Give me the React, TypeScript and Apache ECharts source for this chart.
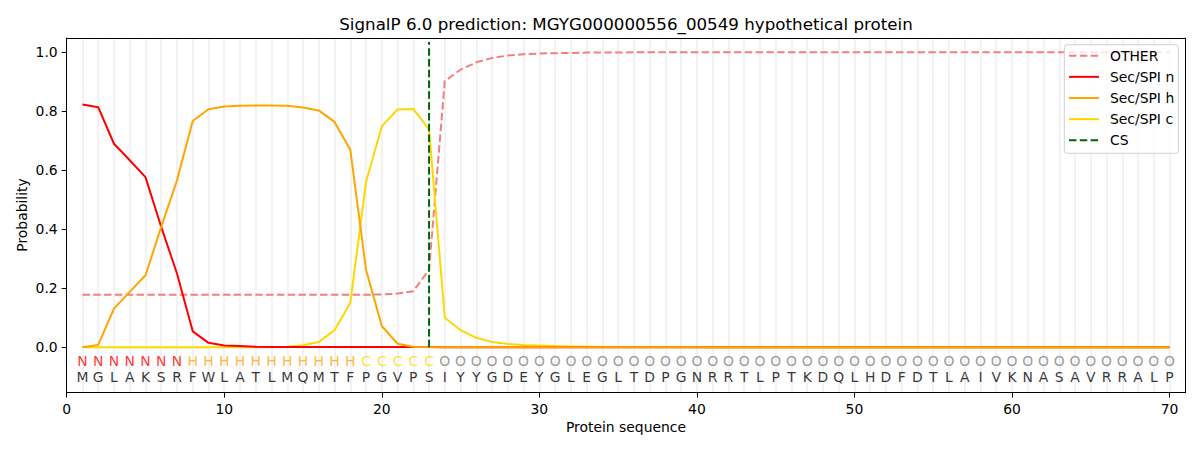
import React, { useEffect, useRef } from "react";
import * as echarts from "echarts";

const TITLE = "SignalP 6.0 prediction: MGYG000000556_00549 hypothetical protein";
const SEQUENCE = "MGLAKSRFWLATLMQMTFPGVPSIYYGDEYGLEGLTDPGNRRTLPTKDQLHDFDTLAIVKNASAVRRALP".split("");
const REGIONS = "NNNNNNNHHHHHHHHHHHCCCCCOOOOOOOOOOOOOOOOOOOOOOOOOOOOOOOOOOOOOOOOOOOOOOO".split("");

const OTHER = [
  0.178, 0.178, 0.178, 0.178, 0.178, 0.178, 0.178, 0.178, 0.178, 0.178,
  0.178, 0.178, 0.178, 0.178, 0.178, 0.178, 0.178, 0.178, 0.178, 0.179,
  0.182, 0.19, 0.263, 0.903, 0.941, 0.966, 0.981, 0.989, 0.993, 0.996,
  0.997, 0.998, 0.999, 0.999, 0.999, 1, 1, 1, 1, 1,
  1, 1, 1, 1, 1, 1, 1, 1, 1, 1,
  1, 1, 1, 1, 1, 1, 1, 1, 1, 1,
  1, 1, 1, 1, 1, 1, 1, 1, 1, 1,
];
const SEC_N = [
  0.823, 0.814, 0.69, 0.634, 0.577, 0.408, 0.25, 0.054, 0.015, 0.006,
  0.004, 0.002, 0.001, 0.001, 0.001, 0.001, 0.001, 0.001, 0.001, 0.001,
  0.001, 0.001, 0.001, 0, 0, 0, 0, 0, 0, 0,
  0, 0, 0, 0, 0, 0, 0, 0, 0, 0,
  0, 0, 0, 0, 0, 0, 0, 0, 0, 0,
  0, 0, 0, 0, 0, 0, 0, 0, 0, 0,
  0, 0, 0, 0, 0, 0, 0, 0, 0, 0,
];
const SEC_H = [
  0, 0.008, 0.131, 0.188, 0.244, 0.408, 0.566, 0.767, 0.807, 0.816,
  0.819, 0.82, 0.82, 0.819, 0.813, 0.803, 0.764, 0.67, 0.263, 0.072,
  0.012, 0.002, 0, 0, 0, 0, 0, 0, 0, 0,
  0, 0, 0, 0, 0, 0, 0, 0, 0, 0,
  0, 0, 0, 0, 0, 0, 0, 0, 0, 0,
  0, 0, 0, 0, 0, 0, 0, 0, 0, 0,
  0, 0, 0, 0, 0, 0, 0, 0, 0, 0,
];
const SEC_C = [
  0, 0, 0, 0, 0, 0, 0, 0, 0, 0,
  0, 0, 0.001, 0.002, 0.007, 0.018, 0.058, 0.15, 0.56, 0.749,
  0.806, 0.808, 0.739, 0.1, 0.058, 0.032, 0.018, 0.011, 0.008, 0.006,
  0.004, 0.003, 0.002, 0.001, 0.001, 0.001, 0.001, 0.001, 0.001, 0.001,
  0, 0, 0, 0, 0, 0, 0, 0, 0, 0,
  0, 0, 0, 0, 0, 0, 0, 0, 0, 0,
  0, 0, 0, 0, 0, 0, 0, 0, 0, 0,
];
const CS_POS = 23;
const CS_TOP = 1.035;
const X_TICKS = [0, 10, 20, 30, 40, 50, 60, 70];
const Y_TICKS = [0, 0.2, 0.4, 0.6, 0.8, 1.0];

const LEGEND_ITEMS = [
  { name: "OTHER", color: "#f08080", dashed: true },
  { name: "Sec/SPI n", color: "#ff0000", dashed: false },
  { name: "Sec/SPI h", color: "#ffa500", dashed: false },
  { name: "Sec/SPI c", color: "#ffd700", dashed: false },
  { name: "CS", color: "#006400", dashed: true },
];

const REGION_COLORS: Record<string, string> = {
  N: "#ff0000",
  H: "#ffa500",
  C: "#ffd700",
  O: "#808080",
};

const FONT = "DejaVu Sans";
const DASH = [7.5, 3.3];

export default function App() {
  const ref = useRef<HTMLDivElement>(null);

  useEffect(() => {
    document.body.style.margin = "0";
    const chart = echarts.init(ref.current!, null, { renderer: "svg" });
    const pos = SEQUENCE.map((_, i) => i + 1);
    const mk = (arr: number[]) => pos.map((x, i) => [x, arr[i]]);

    const lineSeries = (name: string, arr: number[], color: string, dashed: boolean, z: number) => ({
      name,
      type: "line",
      data: mk(arr),
      symbol: "none",
      showSymbol: false,
      z,
      lineStyle: { color, width: 2, type: dashed ? DASH : "solid" },
      itemStyle: { color },
      emphasis: { disabled: true },
    });

    const regionLetters = REGIONS.map((r, i) => ({
      value: [i + 1, -0.046],
      label: { formatter: r, color: REGION_COLORS[r] },
    }));
    const seqLetters = SEQUENCE.map((s, i) => ({
      value: [i + 1, -0.0997],
      label: { formatter: s, color: "#000" },
    }));

    const letterSeries = (data: any[]) => ({
      type: "scatter",
      data,
      symbolSize: 1,
      itemStyle: { color: "transparent" },
      silent: true,
      z: 5,
      label: {
        show: true,
        position: "inside",
        fontSize: 13.9,
        fontFamily: FONT,
      },
    });

    // split line colours: none at x=0 and x=71 (frame), light grey at 1..70
    const gridColors = ["transparent", ...pos.map(() => "#f2f2f2")];

    // legend drawn as graphic
    const legendTop = 44.7;
    const legendLeft = 1064.3;
    const legendGraphics: any[] = [
      {
        type: "rect",
        shape: { x: legendLeft, y: legendTop, width: 114, height: 108.6, r: 3 },
        style: { fill: "rgba(255,255,255,0.8)", stroke: "#d0d0d0", lineWidth: 1 },
        z: 100,
      },
    ];
    LEGEND_ITEMS.forEach((it, i) => {
      const y = 55.7 + i * 21.15;
      legendGraphics.push({
        type: "line",
        shape: { x1: 1069, y1: y, x2: 1099, y2: y },
        style: { stroke: it.color, lineWidth: 2, lineDash: it.dashed ? DASH : null },
        z: 101,
      });
      legendGraphics.push({
        type: "text",
        x: 1110,
        y,
        style: {
          text: it.name,
          fontSize: 13.9,
          fontFamily: FONT,
          fill: "#000",
          align: "left",
          verticalAlign: "middle",
        },
        z: 101,
      });
    });

    chart.setOption({
      animation: false,
      grid: {
        left: 66.7,
        right: 14.7,
        top: 38,
        bottom: 57.3,
        show: false,
      },
      xAxis: [
        {
          type: "value",
          min: 0,
          max: 71,
          position: "bottom",
          axisLine: { show: true, onZero: false, lineStyle: { color: "#000", width: 1 } },
          axisTick: { show: true, length: 5, customValues: X_TICKS, lineStyle: { color: "#000" } },
          axisLabel: {
            customValues: X_TICKS,
            fontSize: 13.9,
            fontFamily: FONT,
            color: "#000",
            margin: 9,
          },
          splitLine: { show: false },
        },
        {
          type: "value",
          min: 0,
          max: 71,
          interval: 1,
          position: "top",
          axisLine: { show: true, onZero: false, lineStyle: { color: "#000", width: 1 } },
          axisTick: { show: false },
          axisLabel: { show: false },
          splitLine: { show: true, lineStyle: { color: gridColors, width: 2 } },
        },
      ],
      yAxis: [
        {
          type: "value",
          min: -0.154,
          max: 1.0485,
          position: "left",
          axisLine: { show: true, onZero: false, lineStyle: { color: "#000", width: 1 } },
          axisTick: { show: true, length: 5, customValues: Y_TICKS, lineStyle: { color: "#000" } },
          axisLabel: {
            customValues: Y_TICKS,
            formatter: (v: number) => v.toFixed(1),
            fontSize: 13.9,
            fontFamily: FONT,
            color: "#000",
            margin: 9,
          },
          splitLine: { show: false },
        },
        {
          type: "value",
          min: -0.154,
          max: 1.0485,
          position: "right",
          axisLine: { show: true, onZero: false, lineStyle: { color: "#000", width: 1 } },
          axisTick: { show: false },
          axisLabel: { show: false },
          splitLine: { show: false },
        },
      ],
      graphic: [
        {
          type: "text",
          x: 626,
          y: 24,
          style: {
            text: TITLE,
            fontSize: 16.7,
            fontFamily: FONT,
            fill: "#000",
            align: "center",
            verticalAlign: "middle",
          },
        },
        {
          type: "text",
          x: 626,
          y: 427,
          style: {
            text: "Protein sequence",
            fontSize: 13.9,
            fontFamily: FONT,
            fill: "#000",
            align: "center",
            verticalAlign: "middle",
          },
        },
        {
          type: "text",
          x: 22,
          y: 215,
          rotation: Math.PI / 2,
          style: {
            text: "Probability",
            fontSize: 13.9,
            fontFamily: FONT,
            fill: "#000",
            align: "center",
            verticalAlign: "middle",
          },
        },
        ...legendGraphics,
      ],
      series: [
        lineSeries("OTHER", OTHER, "#f08080", true, 2),
        lineSeries("Sec/SPI c", SEC_C, "#ffd700", false, 3),
        lineSeries("Sec/SPI n", SEC_N, "#ff0000", false, 4),
        lineSeries("Sec/SPI h", SEC_H, "#ffa500", false, 5),
        {
          name: "CS",
          type: "line",
          data: [
            [CS_POS, 0],
            [CS_POS, CS_TOP],
          ],
          symbol: "none",
          showSymbol: false,
          z: 6,
          lineStyle: { color: "#006400", width: 2, type: DASH },
          itemStyle: { color: "#006400" },
          emphasis: { disabled: true },
        },
        letterSeries(regionLetters),
        letterSeries(seqLetters),
      ],
    });

    return () => chart.dispose();
  }, []);

  return <div ref={ref} style={{ width: 1200, height: 450 }} />;
}
